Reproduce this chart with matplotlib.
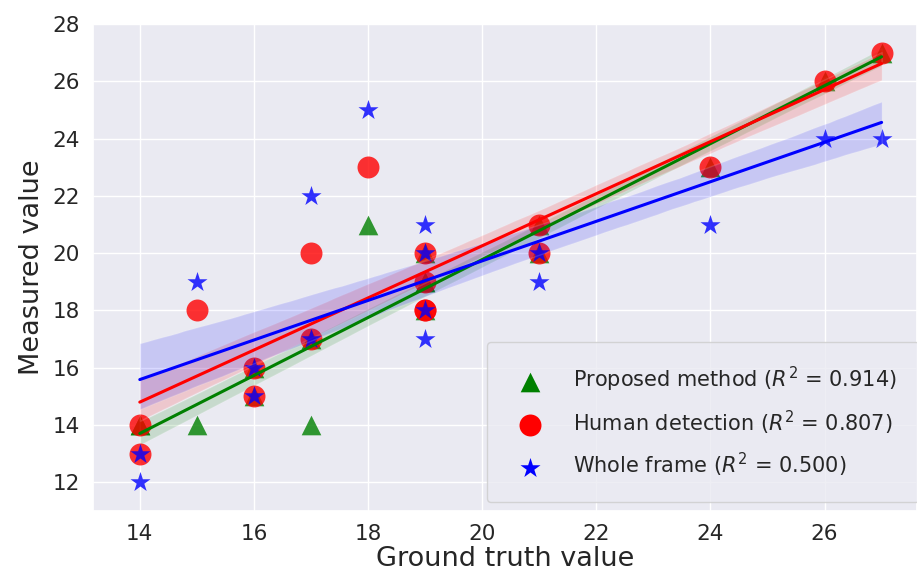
import numpy as np
import matplotlib
matplotlib.use("Agg")
import matplotlib.pyplot as plt
import seaborn as sns

ground_truth = [14, 14, 15, 16, 16, 17, 17, 18, 19, 19, 19, 19, 21, 21, 24, 26, 27]
proposed = [14, 14, 14, 16, 15, 17, 14, 21, 20, 19, 19, 18, 21, 20, 23, 26, 27]
human = [14, 13, 18, 16, 15, 17, 20, 23, 20, 19, 18, 18, 21, 20, 23, 26, 27]
whole_frame = [13, 12, 19, 16, 15, 17, 22, 25, 21, 20, 18, 17, 20, 19, 21, 24, 24]

series_names = ["Proposed method", "Human detection", "Whole frame"]
r2_text = ["0.914", "0.807", "0.500"]
x_ticks = [14, 16, 18, 20, 22, 24, 26]
y_ticks = [12, 14, 16, 18, 20, 22, 24, 26, 28]

sns.set_theme(style="darkgrid")
plt.rcParams["font.family"] = ["DejaVu Sans"]

fig = plt.figure(figsize=(9.17, 5.82), dpi=100)
ax = fig.add_axes([93 / 917, 71 / 582, 1 - 93 / 917, (511 - 24) / 582])

x = np.array(ground_truth, dtype=float)
styles = [("^", "green", 200), ("o", "red", 250), ("*", "blue", 230)]
for vals, name, r2, (mk, col, size) in zip([proposed, human, whole_frame], series_names, r2_text, styles):
    sns.regplot(x=x, y=np.array(vals, dtype=float), ax=ax, marker=mk, color=col,
                ci=68, seed=0, truncate=True,
                scatter_kws={"s": size, "alpha": 0.8, "linewidths": 0},
                line_kws={"lw": 2.2},
                label=f"{name} ($R^2$ = {r2})")

ax.set_xlim(13.18, 27.62)
ax.set_ylim(11, 28)
ax.set_xticks(x_ticks)
ax.set_yticks(y_ticks)
ax.tick_params(labelsize=15.5)
ax.set_xlabel("Ground truth value", fontsize=19.5, labelpad=1)
ax.set_ylabel("Measured value", fontsize=19.5, labelpad=5)

leg = ax.legend(loc="lower left", bbox_to_anchor=(0.478, 0.0185), fontsize=15,
                labelspacing=0.68, borderpad=1.1, handlelength=1.93, handletextpad=1.1,
                borderaxespad=0, frameon=True)
for h in leg.legend_handles:
    h.set_alpha(1)

fig.savefig("out.png", dpi=100)
